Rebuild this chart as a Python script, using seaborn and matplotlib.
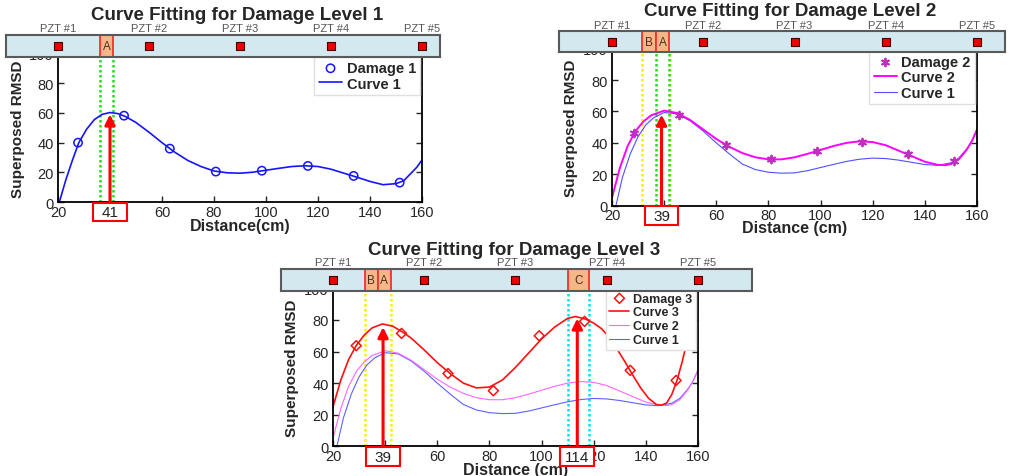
import matplotlib
matplotlib.use("Agg")
import matplotlib.pyplot as plt
import matplotlib.transforms as mtransforms
from matplotlib.patches import Rectangle
import seaborn as sns

sns.set_style("ticks")
plt.rcParams['font.family'] = ['Liberation Sans', 'DejaVu Sans']

# --- dados ---
pzt_x = [20, 55, 90, 125, 160]
pzt_labels = ["PZT #1", "PZT #2", "PZT #3", "PZT #4", "PZT #5"]

# pontos de dano (Distance em cm, Superposed RMSD)
dist_pts1 = [27.7, 45.4, 63.0, 80.7, 98.4, 116.1, 133.7, 151.4]
damage1 = [40.0, 58.1, 36.0, 20.6, 21.2, 24.4, 17.7, 13.2]

dist_pts2 = [28.4, 45.8, 63.6, 80.8, 98.5, 116.0, 133.5, 151.0]
damage2 = [46.0, 58.0, 38.9, 29.5, 35.0, 40.6, 32.9, 28.2]

dist_pts3 = [28.9, 46.3, 64.1, 81.5, 99.1, 116.5, 134.0, 151.6]
damage3 = [63.7, 71.5, 46.1, 35.2, 70.0, 79.1, 48.1, 41.7]

# curvas ajustadas (lidas ponto a ponto)
curve1_lvl1_x = [20.5, 23, 25.5, 28, 31, 34, 37, 40, 43, 46, 50, 55, 60, 65, 70, 75, 80, 85,
                 90, 95, 100, 105, 110, 115, 120, 125, 130, 135, 140, 145, 150, 153, 155.5, 158, 160]
curve1_lvl1_y = [0, 15, 28, 40, 49, 55.5, 59, 60.2, 59.5, 57.5, 53.5, 47, 40, 33.5, 28, 24, 21, 19.8,
                 19.5, 20.2, 21.5, 22.8, 24, 24.5, 24, 22.2, 19.5, 16.8, 14, 11.8, 12.5, 14.5, 19, 23.5, 28.4]

curve1_x = [21.5, 24, 27, 30, 33, 36, 40, 45, 50, 55, 60, 65, 70, 75, 80, 85, 90, 95, 100,
            105, 110, 115, 120, 125, 130, 135, 140, 145, 150, 153, 156, 158, 160]
curve1_y = [0, 18, 33, 44, 51.5, 56, 59.3, 58.5, 54, 47.5, 40, 33, 26.5, 23, 21.3, 20.7, 20.9, 22.3, 24.3,
            26.3, 28.2, 29.6, 30.3, 30.0, 29.0, 27.6, 26.2, 25.7, 27.3, 30.3, 36, 41, 48]

curve2_x = [20, 23, 26, 29, 32, 35, 40, 45, 50, 55, 60, 65, 70, 75, 80, 85, 90, 95, 100,
            105, 110, 115, 120, 125, 130, 135, 140, 145, 148, 150, 153, 156, 158, 160]
curve2_y = [5, 24, 38, 47.5, 53.5, 57.5, 60.5, 59, 54.5, 48.5, 42.5, 37.5, 33.5, 30.8, 29.5, 29.5, 30.8, 33, 35.5,
            38, 40, 41, 40.5, 38.5, 35, 31.5, 28, 26, 25.8, 26.5, 29.5, 35.5, 41, 48.5]

curve3_x = [20, 23, 26, 29, 32, 35, 39, 43, 47, 50, 55, 60, 65, 70, 75, 80, 85, 90, 95, 100,
            105, 110, 113, 117, 120, 123, 126, 129, 132, 135, 138, 141, 144, 146, 148, 150,
            152, 154, 156, 158, 160]
curve3_y = [25, 42, 55, 64, 70.5, 75, 77.5, 76, 72, 68.5, 61, 53, 46, 40, 37, 37.5, 42, 50, 59, 68,
            75.5, 81, 82.2, 80.5, 78, 74.5, 69, 61.5, 53.5, 45, 37, 30.5, 26.5, 26, 27.5, 33,
            42, 54, 68, 84, 102]

# zonas de dano na barra e linhas-guia
zones1 = [("A", 36.1, 41.3)]
zones2 = [("B", 31.5, 36.9), ("A", 36.9, 41.9)]
zones3 = [("B", 32.3, 37.1), ("A", 37.1, 42.2), ("C", 110.2, 118.2)]

green1 = [36.1, 41.3]
yellow2 = [31.5, 42.1]
green2 = [36.9, 41.8]
yellow3 = [32.3, 42.2]
cyan3 = [110.2, 118.2]

# picos indicados pelas setas
peak_x1, peak_tip1, peak_lab1 = [40], [59], ["41"]
peak_x2, peak_tip2, peak_lab2 = [39], [58], ["39"]
peak_x3, peak_tip3, peak_lab3 = [39.2, 113.7], [75.5, 81], ["39", "114"]

W, H = 1017, 477
fig = plt.figure(figsize=(W / 100, H / 100), dpi=100)


def box(x0, y0, x1, y1):
    return [x0 / W, 1 - y1 / H, (x1 - x0) / W, (y1 - y0) / H]


def draw_frame(ax_px, bar_px, title, title_xy, zones):
    ax = fig.add_axes(box(*ax_px))
    ax.set_xlim(20, 160)
    ax.set_ylim(0, 100)
    ax.set_xticks(range(20, 161, 20))
    ax.set_yticks(range(0, 101, 20))
    ax.tick_params(direction='in', length=4, width=1, labelsize=10.5, right=True, top=False)
    ax.tick_params(axis='x', pad=2)
    ax.tick_params(axis='y', pad=3)
    for s in ax.spines.values():
        s.set_linewidth(1.3)
        s.set_color('black')
    fig.text(title_xy[0] / W, 1 - title_xy[1] / H, title, ha='center', va='center',
             fontsize=13.5, fontweight='bold')

    # barra com os sensores PZT
    ppu = (ax_px[2] - ax_px[0]) / 140
    bax = fig.add_axes(box(*bar_px))
    bax.set_xlim(20 + (bar_px[0] - ax_px[0]) / ppu, 20 + (bar_px[2] - ax_px[0]) / ppu)
    bax.set_ylim(0, 1)
    bax.set_facecolor('#D3E9EF')
    bax.set_xticks([])
    bax.set_yticks([])
    for s in bax.spines.values():
        s.set_color('#5a5a5a')
        s.set_linewidth(1.5)
    for name, x0, x1 in zones:
        bax.axvspan(x0, x1, facecolor='#F7B687', edgecolor='#EE3333', lw=1.3)
        bax.text((x0 + x1) / 2, 0.5, name, ha='center', va='center', fontsize=8.5, color='#4a3020')
    sns.scatterplot(x=pzt_x, y=[0.5] * len(pzt_x), marker='s', s=32, color='#EE0000',
                    edgecolor='#440000', linewidth=0.8, ax=bax, zorder=3)
    for x, lab in zip(pzt_x, pzt_labels):
        bax.text(x, 1.3, lab, ha='center', va='center', fontsize=8, color='#555555', clip_on=False)
    return ax


def guides(ax, xs, color):
    for x in xs:
        ax.axvline(x, color=color, lw=1.8, linestyle=(0, (1, 1)), zorder=1.5)


def mark_peaks(ax, xs, tips, labels):
    trans = mtransforms.blended_transform_factory(ax.transData, ax.transAxes)
    for x, tip, lab in zip(xs, tips, labels):
        ax.annotate('', xy=(x, tip), xytext=(x, 0), annotation_clip=False, zorder=4,
                    arrowprops=dict(arrowstyle='-|>,head_length=0.6,head_width=0.3', color='#FF0000',
                                    lw=2.2, shrinkA=0, shrinkB=0, mutation_scale=10))
        ax.add_patch(Rectangle((x - 6.5, -0.125), 13, 0.12, transform=trans, facecolor='white',
                               edgecolor='#FF0000', lw=1.5, clip_on=False, zorder=6))
        ax.text(x, -0.065, lab, transform=trans, ha='center', va='center', fontsize=11,
                color='#222222', zorder=7, clip_on=False)


def labels(ax, xlabel, xlabel_y):
    ax.set_xlabel(xlabel, fontsize=11.5, fontweight='bold')
    ax.xaxis.set_label_coords(0.5, xlabel_y)
    ax.set_ylabel('Superposed RMSD', fontsize=11, fontweight='bold')
    ax.yaxis.set_label_coords(-0.092, 0.5)


def legend(ax, order, size, bottom, spacing):
    h, l = ax.get_legend_handles_labels()
    d = dict(zip(l, h))
    ax.legend([d[k] for k in order], order, loc='lower right', bbox_to_anchor=(0.995, bottom),
              borderaxespad=0, prop={'weight': 'bold', 'size': size}, fancybox=False,
              edgecolor='#e0e0e0', framealpha=1, handlelength=1.6, handletextpad=0.3,
              labelspacing=spacing, borderpad=0.3, scatterpoints=1)


# --- Painel 1 ---
ax1 = draw_frame((58, 54.2, 422, 203.3), (6, 36, 440, 58),
                 'Curve Fitting for Damage Level 1', (237, 16), zones1)
guides(ax1, green1, '#22DD22')
sns.lineplot(x=curve1_lvl1_x, y=curve1_lvl1_y, color='#1515FF', lw=1.2, label='Curve 1', ax=ax1)
sns.scatterplot(x=dist_pts1, y=damage1, marker='o', s=36, color='#1515FF', facecolor='none',
                edgecolor='#1515FF', linewidth=1.1, label='Damage 1', ax=ax1, zorder=3)
mark_peaks(ax1, peak_x1, peak_tip1, peak_lab1)
labels(ax1, 'Distance(cm)', -0.105)
legend(ax1, ['Damage 1', 'Curve 1'], 10.5, 0.72, 0.1)

# --- Painel 2 ---
ax2 = draw_frame((612, 49.6, 977, 206.7), (559, 32, 1005, 53),
                 'Curve Fitting for Damage Level 2', (790, 12), zones2)
guides(ax2, yellow2, '#FFEE00')
guides(ax2, green2, '#22DD22')
sns.lineplot(x=curve1_x, y=curve1_y, color='#5050FF', lw=0.8, label='Curve 1', ax=ax2)
sns.lineplot(x=curve2_x, y=curve2_y, color='#FF00FF', lw=1.4, label='Curve 2', ax=ax2)
sns.scatterplot(x=dist_pts2, y=damage2, marker=(6, 2, 0), s=30, color='#C030C0',
                linewidth=1.4, label='Damage 2', ax=ax2, zorder=3)
mark_peaks(ax2, peak_x2, peak_tip2, peak_lab2)
labels(ax2, 'Distance (cm)', -0.09)
legend(ax2, ['Damage 2', 'Curve 2', 'Curve 1'], 10.5, 0.647, 0.1)

# --- Painel 3 ---
ax3 = draw_frame((333, 289.4, 698, 447.3), (281, 270, 752, 292),
                 'Curve Fitting for Damage Level 3', (514, 251), zones3)
guides(ax3, yellow3, '#FFEE00')
guides(ax3, cyan3, '#00E5EE')
sns.lineplot(x=curve1_x, y=curve1_y, color='#6060FF', lw=0.8, label='Curve 1', ax=ax3)
sns.lineplot(x=curve2_x, y=curve2_y, color='#FF66FF', lw=0.8, label='Curve 2', ax=ax3)
sns.lineplot(x=curve3_x, y=curve3_y, color='#FF1010', lw=1.2, label='Curve 3', ax=ax3)
sns.scatterplot(x=dist_pts3, y=damage3, marker='D', s=26, color='#FF1010', facecolor='none',
                edgecolor='#FF1010', linewidth=1.1, label='Damage 3', ax=ax3, zorder=3)
mark_peaks(ax3, peak_x3, peak_tip3, peak_lab3)
labels(ax3, 'Distance (cm)', -0.1)
legend(ax3, ['Damage 3', 'Curve 3', 'Curve 2', 'Curve 1'], 9, 0.61, 0.15)

fig.savefig('out.png', dpi=100)
